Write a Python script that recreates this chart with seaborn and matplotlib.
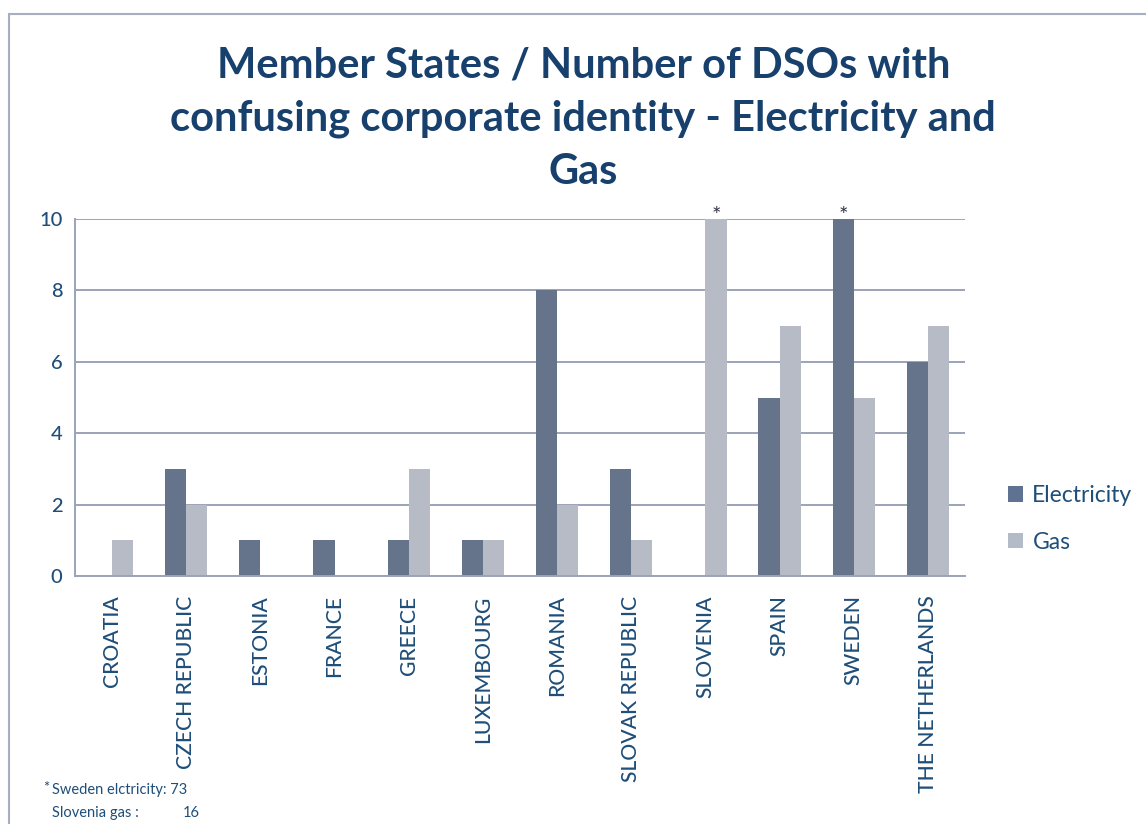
import matplotlib
matplotlib.use("Agg")
import matplotlib.pyplot as plt
import seaborn as sns
import pandas as pd
from matplotlib.lines import Line2D
from matplotlib.patches import Patch

countries = ["CROATIA", "CZECH REPUBLIC", "ESTONIA", "FRANCE", "GREECE", "LUXEMBOURG",
             "ROMANIA", "SLOVAK REPUBLIC", "SLOVENIA", "SPAIN", "SWEDEN", "THE NETHERLANDS"]
electricity = [0, 3, 1, 1, 1, 1, 8, 3, 0, 5, 10, 6]
gas = [1, 2, 0, 0, 3, 1, 2, 1, 10, 7, 5, 7]
series_names = ["Electricity", "Gas"]
colors = ["#5f7291", "#b3bac8"]
yticks = [0, 2, 4, 6, 8, 10]
title = "Member States / Number of DSOs with\nconfusing corporate identity - Electricity and\nGas"
footnote_lines = ["Sweden elctricity: 73", "Slovenia gas :"]
footnote_vals = ["", "16"]

df = pd.DataFrame({
    "country": countries * 2,
    "series": [series_names[0]] * len(countries) + [series_names[1]] * len(countries),
    "value": electricity + gas,
})

sns.set_theme(style="white")
plt.rcParams["font.family"] = ["Lato", "DejaVu Sans"]

text_col = "#1f4e79"
grid_col = "#9aa3b8"

fig = plt.figure(figsize=(11.46, 8.24), dpi=100)
ax = fig.add_axes([75/1146, 1-576/824, (965-75)/1146, (576-219)/824])

sns.barplot(data=df, x="country", y="value", hue="series", palette=colors,
            width=0.57, linewidth=0, ax=ax, legend=False, order=countries)

ax.set_ylim(0, 10)
ax.set_yticks(yticks)
ax.set_xlim(-0.5, len(countries) - 0.5)
ax.yaxis.grid(True, color=grid_col, linewidth=1.4)
ax.set_axisbelow(True)
for s in ["top", "right"]:
    ax.spines[s].set_visible(False)
for s in ["left", "bottom"]:
    ax.spines[s].set_color(grid_col)
    ax.spines[s].set_linewidth(1.4)
ax.set_xlabel("")
ax.set_ylabel("")
ax.tick_params(axis="y", length=0, pad=9, labelsize=14.5, labelcolor=text_col)
ax.tick_params(axis="x", length=0, pad=14, labelsize=15.2, labelcolor=text_col, rotation=90)
for lbl in ax.get_xticklabels() + ax.get_yticklabels():
    lbl.set_fontweight("medium")
for lbl in ax.get_xticklabels():
    lbl.set_va("top")

# asterisks on capped bars
for ci, idx in [(1, 8), (0, 10)]:
    p = ax.containers[ci][idx]
    ax.text(p.get_x() + p.get_width() / 2, 9.8, "*", ha="center", va="bottom",
            fontsize=16, color="#333344", clip_on=False, zorder=5)

fig.text(0.509, 1 - 47/824, title, ha="center", va="top", fontsize=30, fontweight="bold",
         color="#17406d", linespacing=1.48)

handles = [Patch(facecolor=c, edgecolor="none") for c in colors]
leg = fig.legend(handles, series_names, loc="center left", bbox_to_anchor=(987/1146, 1 - 519/824),
                 frameon=False, fontsize=16.5, labelspacing=1.1, handlelength=0.68,
                 handleheight=0.68, handletextpad=0.4)
for t in leg.get_texts():
    t.set_color(text_col)

fig.text(43/1146, 1 - 788/824, "*", fontsize=10.5, color=text_col, va="center")
fig.text(52/1146, 1 - 790/824, footnote_lines[0], fontsize=10.5, color=text_col, va="center")
fig.text(52/1146, 1 - 813/824, footnote_lines[1], fontsize=10.5, color=text_col, va="center")
fig.text(200/1146, 1 - 813/824, footnote_vals[1], fontsize=10.5, color=text_col, va="center", ha="right")

frame_col = "#a6aec2"
fig.add_artist(Line2D([9/1146, 9/1146], [0, 1 - 14/824], transform=fig.transFigure,
                      color=frame_col, linewidth=1.5))
fig.add_artist(Line2D([9/1146, 1], [1 - 14/824, 1 - 14/824], transform=fig.transFigure,
                      color=frame_col, linewidth=1.5))

fig.savefig("out.png", dpi=100, facecolor="white")
